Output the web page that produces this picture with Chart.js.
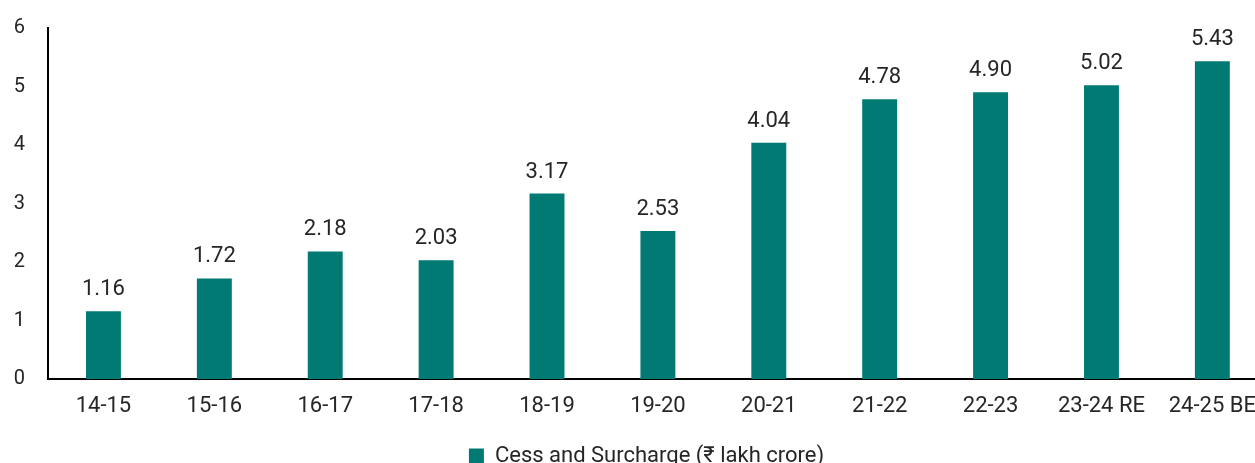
<!DOCTYPE html>
<html>
<head>
<meta charset="utf-8">
<script src="https://cdn.jsdelivr.net/npm/chart.js@4/dist/chart.umd.min.js"></script>
<style>
  html, body { margin: 0; padding: 0; background: #fff; overflow: hidden; }
  #wrap { width: 1270px; height: 463px; }
</style>
</head>
<body>
<div id="wrap"><canvas id="chart"></canvas></div>
<script>
// data
const years = ["14-15", "15-16", "16-17", "17-18", "18-19", "19-20", "20-21", "21-22", "22-23", "23-24 RE", "24-25 BE"];
const cessValues = [1.16, 1.72, 2.18, 2.03, 3.17, 2.53, 4.04, 4.78, 4.90, 5.02, 5.43];
const seriesName = "Cess and Surcharge (\u20B9 lakh crore)";

const barColour = "#007A73";
const textColour = "#262626";

// labels on top of the bars
const valueLabels = {
  id: "valueLabels",
  afterDatasetsDraw(chart) {
    const ctx = chart.ctx;
    const meta = chart.getDatasetMeta(0);
    ctx.save();
    ctx.font = "22px Roboto";
    ctx.fillStyle = textColour;
    ctx.textAlign = "center";
    ctx.textBaseline = "alphabetic";
    meta.data.forEach((bar, i) => {
      ctx.fillText(cessValues[i].toFixed(2), bar.x, bar.y - 16);
    });
    ctx.restore();
  }
};

// nudge the legend to where it sits in the picture
const legendShift = {
  id: "legendShift",
  afterLayout(chart) {
    const lg = chart.legend;
    lg.left += 12; lg.right += 12;
    lg.top += 14; lg.bottom += 14;
  }
};

new Chart("chart", {
  type: "bar",
  data: {
    labels: years,
    datasets: [{
      label: seriesName,
      data: cessValues,
      backgroundColor: barColour,
      barPercentage: 0.63,
      categoryPercentage: 0.5
    }]
  },
  options: {
    responsive: true,
    maintainAspectRatio: false,
    animation: false,
    layout: { padding: { top: 28, left: 0, right: 1, bottom: 0 } },
    plugins: {
      tooltip: { enabled: false },
      legend: {
        position: "bottom",
        labels: {
          font: { family: "Roboto", size: 22 },
          color: textColour,
          boxWidth: 15,
          boxHeight: 15,
          padding: 4
        }
      }
    },
    scales: {
      x: {
        afterFit(scale) { scale.height = 48; },
        grid: { display: false, drawTicks: false },
        border: { color: "#000", width: 2 },
        ticks: { font: { family: "Roboto", size: 22 }, color: textColour, padding: 14, maxRotation: 0, autoSkip: false }
      },
      y: {
        min: 0,
        max: 6,
        afterFit(scale) {
          scale.width = 48;
          scale.paddingTop = 0;
          scale.paddingBottom = 0;
        },
        grid: { display: false, drawTicks: false },
        border: { color: "#000", width: 2 },
        ticks: { stepSize: 1, font: { family: "Roboto", size: 20 }, color: textColour, padding: 23 }
      }
    }
  },
  plugins: [valueLabels, legendShift]
});
</script>
</body>
</html>
